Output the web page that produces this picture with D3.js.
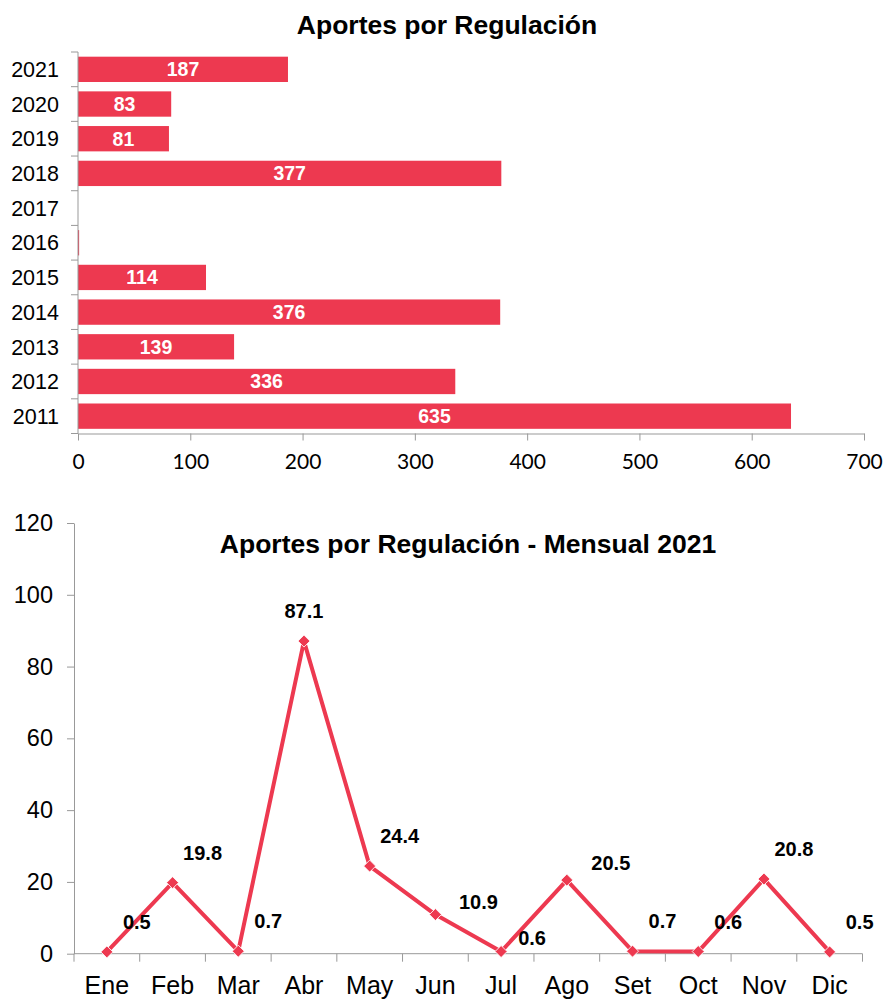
<!DOCTYPE html>
<html>
<head>
<meta charset="utf-8">
<script src="https://cdn.jsdelivr.net/npm/d3@7"></script>
<style>
  body { margin: 0; background: #fff; }
  svg { display: block; font-family: "Liberation Sans", Arial, sans-serif; }
</style>
</head>
<body>
<svg id="chart"></svg>
<script>
// Data - yearly
const years = ["2021", "2020", "2019", "2018", "2017", "2016", "2015", "2014", "2013", "2012", "2011"];
const yearValues = [187, 83, 81, 377, 0, 1, 114, 376, 139, 336, 635];
const yearTicks = [0, 100, 200, 300, 400, 500, 600, 700];

// Data - monthly 2021
const months = ["Ene", "Feb", "Mar", "Abr", "May", "Jun", "Jul", "Ago", "Set", "Oct", "Nov", "Dic"];
const monthValues = [0.5, 19.8, 0.7, 87.1, 24.4, 10.9, 0.6, 20.5, 0.7, 0.6, 20.8, 0.5];
const monthTicks = [0, 20, 40, 60, 80, 100, 120];

const width = 884;
const height = 999;
const red = "#ED3950";
const axisColor = "#999";

const svg = d3.select("#chart")
  .attr("width", width)
  .attr("height", height);

// ---------- Top chart: horizontal bars ----------
const x1 = d3.scaleLinear().domain([0, 700]).range([78, 864]);
const y1 = d3.scaleBand().domain(years).range([52, 433.5])
  .paddingInner(0.27).paddingOuter(0.135);

svg.append("text")
  .attr("x", 447).attr("y", 34)
  .attr("text-anchor", "middle")
  .style("font-size", "26.5px").style("font-weight", "bold")
  .text("Aportes por Regulación");

const gTop = svg.append("g");

gTop.selectAll(".bar")
  .data(years)
  .enter().append("rect")
  .attr("class", "bar")
  .attr("x", x1(0))
  .attr("y", d => y1(d))
  .attr("width", (d, i) => x1(yearValues[i]) - x1(0))
  .attr("height", y1.bandwidth())
  .attr("fill", red);

gTop.selectAll(".bar-label")
  .data(years.filter((d, i) => yearValues[i] > 5))
  .enter().append("text")
  .attr("class", "bar-label")
  .attr("x", d => (x1(0) + x1(yearValues[years.indexOf(d)])) / 2)
  .attr("y", d => y1(d) + y1.bandwidth() / 2)
  .attr("dy", "0.36em")
  .attr("text-anchor", "middle")
  .style("font-size", "19.5px").style("font-weight", "bold")
  .style("fill", "#fff")
  .text(d => yearValues[years.indexOf(d)]);

// vertical axis with ticks between categories
const step1 = y1.step();
gTop.append("line")
  .attr("x1", x1(0)).attr("x2", x1(0))
  .attr("y1", 52).attr("y2", 433.5)
  .attr("stroke", axisColor);
d3.range(years.length + 1).forEach(i => {
  gTop.append("line")
    .attr("x1", x1(0) - 7).attr("x2", x1(0))
    .attr("y1", 52 + i * step1).attr("y2", 52 + i * step1)
    .attr("stroke", axisColor);
});
gTop.selectAll(".year-label")
  .data(years)
  .enter().append("text")
  .attr("x", 59)
  .attr("y", d => y1(d) + y1.bandwidth() / 2)
  .attr("dy", "0.36em")
  .attr("text-anchor", "end")
  .style("font-size", "21.5px")
  .text(d => d);

// horizontal axis
const xAxis1 = gTop.append("g")
  .attr("transform", "translate(0,433.5)")
  .call(d3.axisBottom(x1).tickValues(yearTicks).tickSize(7).tickPadding(14).tickSizeOuter(0));
xAxis1.select(".domain").attr("stroke", axisColor);
xAxis1.selectAll(".tick line").attr("stroke", axisColor);
xAxis1.selectAll(".tick text")
  .style("font-family", "Lato, 'Open Sans', sans-serif")
  .style("font-size", "21px").attr("fill", "#000");

// ---------- Bottom chart: monthly line ----------
const x2 = d3.scaleBand().domain(months).range([74, 862.5]);
const y2 = d3.scaleLinear().domain([0, 120]).range([953.7, 523]);

const gBot = svg.append("g");

gBot.append("text")
  .attr("x", 468).attr("y", 553)
  .attr("text-anchor", "middle")
  .style("font-size", "26.5px").style("font-weight", "bold")
  .text("Aportes por Regulación - Mensual 2021");

const yAxis2 = gBot.append("g")
  .attr("transform", "translate(74,0)")
  .call(d3.axisLeft(y2).tickValues(monthTicks).tickSize(7).tickPadding(14).tickSizeOuter(0));
yAxis2.select(".domain").attr("stroke", axisColor);
yAxis2.selectAll(".tick line").attr("stroke", axisColor);
yAxis2.selectAll(".tick text")
  .style("font-family", "'Liberation Sans', Arial, sans-serif")
  .style("font-size", "23.5px").attr("fill", "#000");

// x axis with ticks between categories
gBot.append("line")
  .attr("x1", 74).attr("x2", 862.5)
  .attr("y1", y2(0)).attr("y2", y2(0))
  .attr("stroke", axisColor);
d3.range(months.length + 1).forEach(i => {
  const xt = 74 + i * x2.step();
  gBot.append("line")
    .attr("x1", xt).attr("x2", xt)
    .attr("y1", y2(0)).attr("y2", y2(0) + 8)
    .attr("stroke", axisColor);
});
gBot.selectAll(".month-label")
  .data(months)
  .enter().append("text")
  .attr("x", d => x2(d) + x2.bandwidth() / 2)
  .attr("y", 994)
  .attr("text-anchor", "middle")
  .style("font-size", "25px")
  .text(d => d);

const cx = d => x2(d) + x2.bandwidth() / 2;

const line = d3.line()
  .x(d => cx(d))
  .y((d, i) => y2(monthValues[i]));

gBot.append("path")
  .datum(months)
  .attr("d", line)
  .attr("fill", "none")
  .attr("stroke", red)
  .attr("stroke-width", 4)
  .attr("stroke-linejoin", "round");

gBot.selectAll(".marker")
  .data(months)
  .enter().append("path")
  .attr("class", "marker")
  .attr("d", d3.symbol().type(d3.symbolSquare).size(72))
  .attr("transform", (d, i) => `translate(${cx(d)},${y2(monthValues[i])}) rotate(45)`)
  .attr("fill", red)
  .attr("stroke", "#fff")
  .attr("stroke-width", 0.8);

// label nudges (Excel moved a few by hand)
const nudge = { Abr: [0, -30], Jun: [43, -13], Jul: [31, -13.5], Ago: [44, -17] };

gBot.selectAll(".point-label")
  .data(months)
  .enter().append("text")
  .attr("x", d => cx(d) + (nudge[d] ? nudge[d][0] : 30))
  .attr("y", (d, i) => y2(monthValues[i]) + (nudge[d] ? nudge[d][1] : -30))
  .attr("dy", "0.36em")
  .attr("text-anchor", "middle")
  .style("font-size", "20px").style("font-weight", "bold")
  .text((d, i) => monthValues[i]);
</script>
</body>
</html>
